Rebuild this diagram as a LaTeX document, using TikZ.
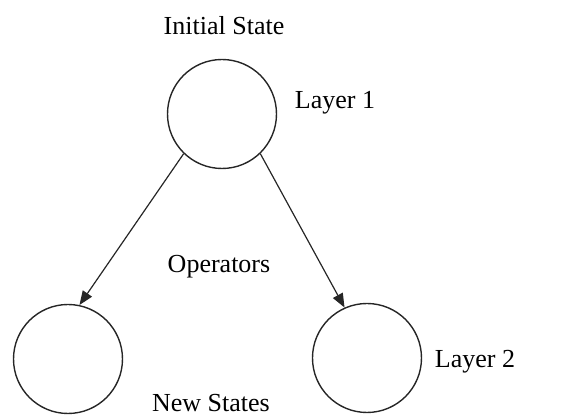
\documentclass[tikz,border=0pt]{standalone}
\usepackage{fontspec}
\setmainfont{Liberation Serif}
\usetikzlibrary{arrows.meta}
\tikzset{
  state/.style={draw=black!85, circle, line width=0.7pt, minimum size=54.5pt, inner sep=0pt},
  lbl/.style={font=\fontsize{13}{15}\selectfont, inner sep=0pt},
  oparr/.style={-{Triangle[length=7pt,width=5.5pt]}, black!85, line width=0.6pt},
}
\begin{document}
\begin{tikzpicture}[x=0.5pt, y=-0.5pt]
    \useasboundingbox (0,0) rectangle (570,416);
    % states
    \node[state] (init) at (222,114) {};
    \node[state] (newl) at (68,359) {};
    \node[state] (newr) at (367,358) {};
    % operators
    \draw[oparr] (init.-134) -- (newl.78);
    \draw[oparr] (init.-46) -- (newr.114);
    % labels
    \node[lbl] (tinit) at (224,26) {Initial State};
    \node[lbl] (tlay1) at (335,103) {Layer 1};
    \node[lbl] (tops) at (219,267) {Operators};
    \node[lbl] (tlay2) at (475,362) {Layer 2};
    \node[lbl] (tnew) at (211,403) {New States};
  \end{tikzpicture}
\end{document}
